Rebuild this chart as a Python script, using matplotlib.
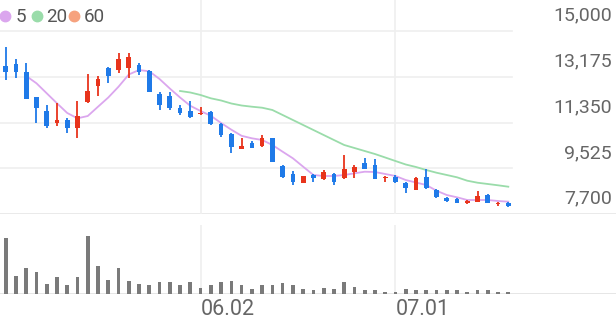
import matplotlib
matplotlib.use('Agg')
import matplotlib.pyplot as plt
from matplotlib.lines import Line2D

plt.rcParams['font.family'] = ['Roboto', 'DejaVu Sans']

# daily candles (KRW)
opens = [13604, 13684, 13376, 12355, 11821, 11342, 11450, 11119, 12180, 12806,
         13524, 13456, 13524, 13644, 13416, 12475, 12407, 11940, 11821, 11677,
         11781, 11278, 10879, 10293, 10520, 10413, 10720, 9615, 9284, 8948,
         9256, 9084, 9284, 9124, 9363, 9722, 9643, 9124, 9188, 8948,
         8657, 9164, 8657, 8350, 8298, 8151, 8190, 8446, 8099, 8151]
closes = [13376, 13352, 12275, 11916, 11210, 11450, 11119, 11609, 12618, 13073,
          13205, 13895, 13963, 13376, 12579, 12048, 11916, 11741, 11581, 11741,
          11290, 10851, 10361, 10413, 10345, 10744, 9786, 9188, 8988, 9216,
          9124, 9388, 8988, 9483, 9587, 9495, 9096, 9188, 8964, 8725,
          9124, 8725, 8366, 8230, 8151, 8206, 8418, 8127, 8151, 8031]
highs = [14374, 13871, 13735, 12355, 12048, 12140, 11517, 12220, 13285, 13205,
         13552, 14122, 14122, 13735, 13450, 12579, 12579, 12048, 12220, 11956,
         11821, 11318, 10919, 10720, 10612, 10851, 10740, 9655, 9415, 9230,
         9284, 9455, 9324, 10054, 9655, 9922, 9882, 9216, 9256, 8988,
         9188, 9483, 8685, 8390, 8326, 8258, 8629, 8498, 8190, 8178]
lows = [13045, 13113, 12275, 11342, 11119, 11210, 10943, 10720, 12116, 12407,
        12938, 13325, 13113, 13245, 12560, 11849, 11849, 11649, 11517, 11649,
        11250, 10760, 10145, 10280, 10330, 10385, 9760, 9124, 8857, 8935,
        8988, 9056, 8857, 9110, 9124, 9483, 9084, 8988, 8948, 8526,
        8640, 8697, 8326, 8190, 8127, 8099, 8180, 8120, 8031, 7991]
volumes = [557, 183, 260, 223, 100, 167, 90, 167, 583, 283,
           137, 263, 130, 100, 90, 117, 117, 87, 120, 63,
           90, 120, 133, 90, 50, 90, 93, 110, 93, 48,
           37, 57, 50, 123, 67, 40, 37, 23, 23, 47,
           37, 37, 37, 37, 37, 23, 37, 37, 23, 23]

ma5_start = 2
ma5 = [13205, 12914, 12515, 12116, 11729, 11517, 11609, 11980, 12347, 12778,
       13265, 13444, 13392, 13085, 12706, 12347, 12016, 11809, 11617, 11330,
       11063, 10819, 10720, 10652, 10453, 10185, 9922, 9587, 9256, 9216,
       9216, 9256, 9323, 9387, 9375, 9296, 9216, 9056, 8956, 8857,
       8629, 8458, 8366, 8258, 8258, 8258, 8219, 8191]
ma20_start = 17
ma20 = [12607, 12547, 12447, 12315, 12228, 12108, 12028, 11980, 11940, 11849,
        11649, 11450, 11250, 11051, 10851, 10652, 10453, 10333, 10213, 10093,
        9954, 9814, 9675, 9575, 9455, 9347, 9256, 9164, 9028, 8948,
        8897, 8845, 8789]

price_ticks = [7700, 9525, 11350, 13175, 15000]
date_pos = [19, 38]
date_labels = ['06.02', '07.01']
legend_labels = ['5', '20', '60']

UP = '#e8341c'
DOWN = '#1f7ae8'
GRID = '#efefef'
TXT = '#666666'

W, H = 616, 321
fig = plt.figure(figsize=(W / 100, H / 100), dpi=100)

step = 10.257
x0 = -5.7 / step
x1 = x0 + W / step

ax = fig.add_axes([0, 107 / H, 1, 214 / H])
ax.set_xlim(x0, x1)
ax.set_ylim(7700, 7700 + 214 * 7300 / 183)
ax.axis('off')

vax = fig.add_axes([0, 27 / H, 1, 69 / H])
vax.set_xlim(x0, x1)
vax.set_ylim(0, 690)
vax.axis('off')

# grid
for v in price_ticks[1:]:
    ax.plot([x0, 49.4], [v, v], color=GRID, lw=1.2, zorder=0)
ax.axhline(price_ticks[0], color='#e6e6e6', lw=1.2, zorder=0)
vax.axhline(0, color='#e2e2e2', lw=1.2, zorder=0)
for p in date_pos:
    ax.axvline(p, color=GRID, lw=1.2, zorder=0)
    vax.axvline(p, color=GRID, lw=1.2, zorder=0)

# candles
xs = list(range(len(opens)))
colors = [UP if c >= o else DOWN for o, c in zip(opens, closes)]
ax.vlines(xs, lows, highs, colors=colors, lw=1.3, zorder=3)
bottoms = [min(o, c) for o, c in zip(opens, closes)]
heights = [max(abs(c - o), 45) for o, c in zip(opens, closes)]
ax.bar(xs, heights, bottom=bottoms, width=0.46, color=colors, zorder=3)

# moving averages
ax.plot(range(ma5_start, ma5_start + len(ma5)), ma5, color='#dba6ee', lw=1.3, zorder=2)
ax.plot(range(ma20_start, ma20_start + len(ma20)), ma20, color='#9adcaa', lw=1.3, zorder=2)

# volume
vax.bar(xs, volumes, width=0.36, color='#7a7a7a', zorder=2)

# price labels
for v in price_ticks:
    ax.annotate(f'{v:,}', xy=(1, v), xycoords=('axes fraction', 'data'),
                xytext=(-3.1, 11.0), textcoords='offset points',
                ha='right', va='center', fontsize=14, color=TXT)

# date labels
for p, lab in zip(date_pos, date_labels):
    vax.annotate(lab, xy=(p, 0), xycoords=('data', 'axes fraction'),
                 xytext=(0, -11.0), textcoords='offset points',
                 ha='left', va='center', fontsize=15.5, color=TXT)

# legend
leg_colors = ['#dba6ee', '#9adcaa', '#f6a27e']
dot_x = [5, 37.3, 74]
txt_x = [16, 46, 83.5]
for c, dx, tx, lab in zip(leg_colors, dot_x, txt_x, legend_labels):
    fig.add_artist(Line2D([dx / W], [1 - 15.7 / H], marker='o', markersize=7.5,
                          color=c, linestyle='none', transform=fig.transFigure))
    fig.text(tx / W, 1 - 16.5 / H, lab, fontsize=13.5, color='#555555',
             ha='left', va='center')

fig.savefig('out.png', dpi=100)
